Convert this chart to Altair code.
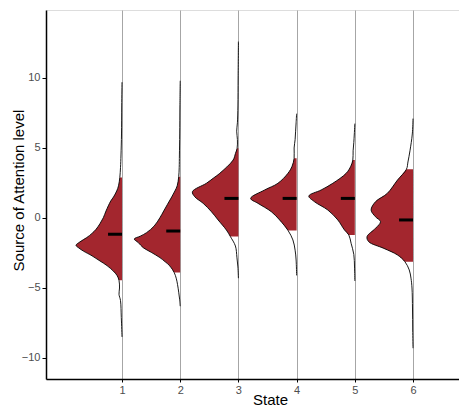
import altair as alt
import pandas as pd

STATES = [1, 2, 3, 4, 5, 6]

# density readings (value on y, relative density width)
S1_VAL = [9.7, 8.0, 6.0, 4.5, 3.6, 2.9, 2.3, 1.93, 1.5, 1.21, 0.5, 0.02, -0.4, -0.81, -1.1, -1.4, -1.7, -1.95, -2.15, -2.36, -2.7, -3.07, -3.4, -3.79, -4.1, -4.45, -5.0, -5.45, -5.9, -7.1, -8.5]
S1_DEN = [0, 0.3, 0.5, 1.0, 1.5, 2.2, 3.5, 5.3, 8.5, 11.3, 16, 18.7, 22, 26, 30, 35.3, 42, 46, 43, 38.7, 30, 22, 15, 8.7, 5, 3, 2.5, 3, 1.5, 0.7, 0]

S2_VAL = [9.8, 8.0, 6.0, 4.5, 3.6, 2.95, 2.3, 1.93, 1.5, 0.98, 0.5, 0.02, -0.57, -1.05, -1.3, -1.5, -1.75, -2.12, -2.45, -2.83, -3.13, -3.43, -3.9, -4.3, -4.74, -5.3, -5.8, -6.3]
S2_DEN = [0, 0.3, 0.5, 0.8, 1.0, 1.5, 3, 5.3, 8.5, 12.7, 16.5, 20.3, 26, 33.7, 40, 46, 42, 37, 29, 20.3, 15, 10.3, 6, 4, 2.7, 1.5, 0.6, 0]

S3_VAL = [12.6, 10.0, 8.0, 6.8, 6.2, 5.6, 4.98, 4.6, 4.14, 3.19, 2.85, 2.48, 1.88, 1.52, 1.05, 0.45, -0.14, -0.86, -1.33, -2.0, -2.8, -3.5, -4.3]
S3_DEN = [0, 0.3, 0.5, 1.0, 1.7, 1.0, 1.3, 3, 5.3, 18.7, 25, 32, 46, 43.7, 35.3, 27, 20.3, 12, 8, 3, 1.5, 0.5, 0]

S4_VAL = [7.45, 6.8, 6.2, 5.6, 5.0, 4.26, 3.7, 3.19, 2.48, 2.0, 1.4, 1.05, 0.45, -0.14, -0.9, -1.57, -2.3, -3.0, -4.1]
S4_DEN = [0, 0.5, 1, 1.5, 2.5, 2.5, 4.5, 8.7, 18.7, 32, 46, 38.7, 25.3, 17, 8.5, 3.7, 1.5, 0.5, 0]

S5_VAL = [6.74, 6.0, 5.4, 4.8, 4.14, 3.7, 3.19, 2.48, 2.0, 1.57, 1.16, 0.57, -0.14, -0.86, -1.21, -1.81, -2.6, -3.5, -4.5]
S5_DEN = [0, 0.5, 1, 1.7, 2, 4, 8.7, 22, 33.7, 46, 40.3, 27, 17, 10.3, 6, 3.7, 1, 0.3, 0]

S6_VAL = [7.1, 6.0, 4.8, 4.0, 3.48, 2.71, 1.76, 1.16, 0.57, 0.09, -0.26, -0.74, -1.33, -1.69, -2.17, -2.64, -3.12, -3.71, -4.3, -5.0, -6.5, -8.0, -9.3]
S6_DEN = [0, 0.7, 3, 5, 6.5, 15.3, 25.3, 37, 41.3, 37, 32, 37, 45.3, 43.7, 28.7, 15.3, 8, 3.7, 2, 1, 0.5, 0.3, 0]

MEDIANS = [-1.16, -0.93, 1.4, 1.4, 1.4, -0.14]
BAND_LO = [-4.45, -3.9, -1.33, -0.9, -1.21, -3.12]
BAND_HI = [2.9, 2.95, 4.98, 4.26, 4.14, 3.48]

X_TICKS = [1, 2, 3, 4, 5, 6]
Y_TICKS = [-10, -5, 0, 5, 10]

RED = "#A3262E"
HALF = 0.79
MED_LEN = 0.24

vals = [S1_VAL, S2_VAL, S3_VAL, S4_VAL, S5_VAL, S6_VAL]
dens = [S1_DEN, S2_DEN, S3_DEN, S4_DEN, S5_DEN, S6_DEN]
rows = []
for s, vv, dd, lo, hi in zip(STATES, vals, dens, BAND_LO, BAND_HI):
    for v, d in zip(vv, dd):
        rows.append({"state": s, "value": v, "dens": d,
                     "inband": bool(lo - 1e-9 <= v <= hi + 1e-9)})
df = pd.DataFrame(rows)
med_df = pd.DataFrame({"state": STATES, "median": MEDIANS})

xscale = alt.Scale(domain=[-0.306, 6.79], nice=False, zero=False)
yscale = alt.Scale(domain=[-11.5, 14.857], nice=False, zero=False)

xaxis = alt.Axis(values=X_TICKS, grid=True, gridColor="#a6a6a6", gridWidth=1,
                 domainColor="black", domainWidth=1.5, tickColor="black",
                 tickSize=3, labelFontSize=11, labelColor="#4d4d4d",
                 labelPadding=2, title="State", titleFontSize=15,
                 titleFontWeight="normal", titleColor="black", titleX=224,
                 titleY=25, titleBaseline="alphabetic", titleAlign="center",
                 labelFlush=False)
yaxis = alt.Axis(values=Y_TICKS, grid=False, domainColor="black",
                 domainWidth=1.5, tickColor="black", tickSize=4,
                 labelFontSize=11, labelColor="#4d4d4d", labelPadding=2,
                 title="Source of Attention level", titleFontSize=15,
                 titleFontWeight="normal", titleColor="black", titleAngle=270,
                 titleX=-23, titleY=180, titleAlign="center",
                 titleBaseline="alphabetic", labelFlush=False)

base = alt.Chart(df).transform_joinaggregate(
    dmax="max(dens)", groupby=["state"]
).transform_calculate(
    left=f"datum.state - {HALF} * datum.dens / datum.dmax"
)

red = base.transform_filter("datum.inband").mark_area(
    orient="horizontal", interpolate="catmull-rom", color=RED
).encode(
    y=alt.Y("value:Q", scale=yscale, axis=yaxis),
    x=alt.X("left:Q", scale=xscale, axis=xaxis),
    x2="state:Q",
    detail="state:N",
)

outline = base.mark_line(
    interpolate="catmull-rom", color="black", strokeWidth=0.9
).encode(
    y=alt.Y("value:Q", scale=yscale, axis=yaxis),
    x=alt.X("left:Q", scale=xscale, axis=xaxis),
    detail="state:N",
    order="value:Q",
)

med = alt.Chart(med_df).transform_calculate(
    x1=f"datum.state - {MED_LEN}"
).mark_rule(strokeWidth=3, color="black").encode(
    y=alt.Y("median:Q", scale=yscale, axis=yaxis),
    x=alt.X("x1:Q", scale=xscale, axis=xaxis),
    x2="state:Q",
)

chart = alt.layer(red, outline, med).properties(
    width=413, height=369,
    padding={"left": 46, "top": 10, "right": 0, "bottom": 28},
    autosize=alt.AutoSizeParams(type="none"),
    background="white",
).configure_view(stroke=None).configure(font="Liberation Sans")

chart.save("out.html", embed_options={"renderer": "svg", "actions": False})
